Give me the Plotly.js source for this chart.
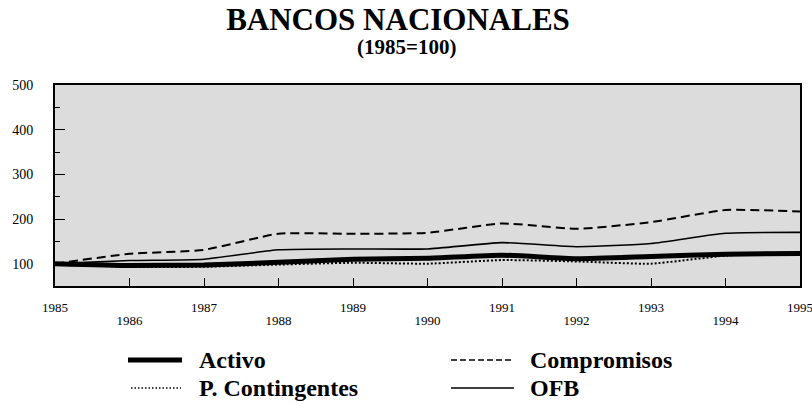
<!DOCTYPE html>
<html>
<head>
<meta charset="utf-8">
<script src="https://cdn.plot.ly/plotly-3.0.1.min.js"></script>
<style>
  html, body { margin: 0; padding: 0; background: #ffffff; }
  #chart { width: 812px; height: 409px; }
</style>
</head>
<body>
<div id="chart"></div>
<script>
// ---- data ----
const years = [1985, 1986, 1987, 1988, 1989, 1990, 1991, 1992, 1993, 1994, 1995];
const activo = [100, 96, 97, 103, 110, 112, 119, 111, 116, 121, 123];
const compromisos = [100, 122, 131, 167, 167, 169, 190, 178, 193, 220, 217];
const contingentes = [100, 93, 93, 98, 102, 100, 108, 105, 100, 118, 126];
const ofb = [100, 107, 110, 131, 133, 133, 147, 138, 145, 168, 170];
const seriesNames = ["Activo", "Compromisos", "P. Contingentes", "OFB"];
const yTickVals = [100, 200, 300, 400, 500];
const titleText = "BANCOS NACIONALES";
const subtitleText = "(1985=100)";

// ---- styling ----
const FONT = '"Liberation Serif", "Times New Roman", serif';
const W = 812, H = 409;
const M = { l: 55, r: 12, t: 85, b: 123 };
const PW = W - M.l - M.r, PH = H - M.t - M.b;
const px2x = px => (px - M.l) / PW;
const py2y = py => (H - M.b - py) / PH;

const styles = {
  "Activo": { color: "#000", width: 5, dash: "solid" },
  "Compromisos": { color: "#000", width: 2, dash: "9px,5px" },
  "P. Contingentes": { color: "#000", width: 2, dash: "2px,2px" },
  "OFB": { color: "#000", width: 1.6, dash: "solid" }
};
const legendStyles = {
  "Activo": { width: 5, dash: "solid" },
  "Compromisos": { width: 1.6, dash: "6px,3px" },
  "P. Contingentes": { width: 1.5, dash: "1.5px,2px" },
  "OFB": { width: 1.6, dash: "solid" }
};
const valuesByName = {
  "Activo": activo,
  "Compromisos": compromisos,
  "P. Contingentes": contingentes,
  "OFB": ofb
};
// Activo uses the overlaying x-axis (identical scale) so it is drawn on top
const axisByName = { "Activo": "x2", "Compromisos": "x", "P. Contingentes": "x", "OFB": "x" };

const drawOrder = ["Compromisos", "OFB", "P. Contingentes", "Activo"];
const traces = drawOrder.map(name => ({
  type: "scatter",
  mode: "lines",
  name: name,
  x: years,
  y: valuesByName[name],
  xaxis: axisByName[name],
  yaxis: "y",
  line: { color: styles[name].color, width: styles[name].width, dash: styles[name].dash,
          shape: "spline", smoothing: 0.5 },
  showlegend: false,
  hoverinfo: "x+y+name"
}));

// two-column legend built from the series names
const legendPos = {
  "Activo": { x0: 128, x1: 182, tx: 197, ty: 360 },
  "P. Contingentes": { x0: 131, x1: 181, tx: 197, ty: 388 },
  "Compromisos": { x0: 451, x1: 512, tx: 528, ty: 360 },
  "OFB": { x0: 451, x1: 514, tx: 528, ty: 388 }
};
const shapes = [];
const annotations = [];
seriesNames.forEach(name => {
  const p = legendPos[name];
  shapes.push({
    type: "line", xref: "paper", yref: "paper",
    x0: px2x(p.x0), x1: px2x(p.x1), y0: py2y(p.ty), y1: py2y(p.ty),
    line: { color: "#000", width: legendStyles[name].width, dash: legendStyles[name].dash }
  });
  annotations.push({
    xref: "paper", yref: "paper", x: px2x(p.tx), y: py2y(p.ty),
    xanchor: "left", yanchor: "middle", showarrow: false,
    text: "<b>" + name + "</b>",
    font: { family: FONT, size: 24, color: "#000" }
  });
});
annotations.push({
  xref: "paper", yref: "paper", x: px2x(406), y: py2y(47),
  xanchor: "center", yanchor: "middle", showarrow: false,
  text: "<b>" + subtitleText + "</b>",
  font: { family: FONT, size: 21, color: "#000" }
});

const evenYears = years.filter(y => y % 2 === 0);

const layout = {
  width: W, height: H,
  margin: M,
  paper_bgcolor: "#ffffff",
  plot_bgcolor: "#dcdcdc",
  showlegend: false,
  title: {
    text: "<b>" + titleText + "</b>",
    x: 398 / W, xanchor: "center", xref: "container",
    y: 1 - 19 / H, yanchor: "middle", yref: "container",
    font: { family: FONT, size: 31, color: "#000" }
  },
  font: { family: FONT, color: "#000" },
  xaxis: {
    range: [1985, 1995],
    tickmode: "array",
    tickvals: years,
    ticktext: years.map(y => (y % 2 === 1 ? String(y) : "")),
    ticks: "inside", ticklen: 8, tickwidth: 1, tickcolor: "#000",
    ticklabelstandoff: 8,
    ticklabeloverflow: "allow",
    tickfont: { family: FONT, size: 13, color: "#000" },
    showgrid: false, zeroline: false,
    showline: true, linecolor: "#000", linewidth: 2, mirror: true,
    fixedrange: true
  },
  xaxis2: {
    overlaying: "x",
    side: "bottom",
    range: [1985, 1995],
    tickmode: "array",
    tickvals: evenYears,
    ticktext: evenYears.map(String),
    ticks: "",
    ticklabelstandoff: 25,
    tickfont: { family: FONT, size: 13, color: "#000" },
    showgrid: false, zeroline: false, showline: false,
    fixedrange: true
  },
  yaxis: {
    range: [50, 500],
    tickmode: "array",
    tickvals: yTickVals,
    ticks: "inside", ticklen: 10, tickwidth: 1, tickcolor: "#000",
    minor: { tickmode: "array", tickvals: [150, 250, 350, 450], ticks: "inside", ticklen: 5, tickwidth: 1, tickcolor: "#000", showgrid: false },
    ticklabelstandoff: 17,
    tickfont: { family: FONT, size: 14, color: "#000" },
    showgrid: false, zeroline: false,
    showline: true, linecolor: "#000", linewidth: 2, mirror: true,
    fixedrange: true
  },
  shapes: shapes,
  annotations: annotations
};

Plotly.newPlot("chart", traces, layout, { displayModeBar: false, responsive: false });
</script>
</body>
</html>
